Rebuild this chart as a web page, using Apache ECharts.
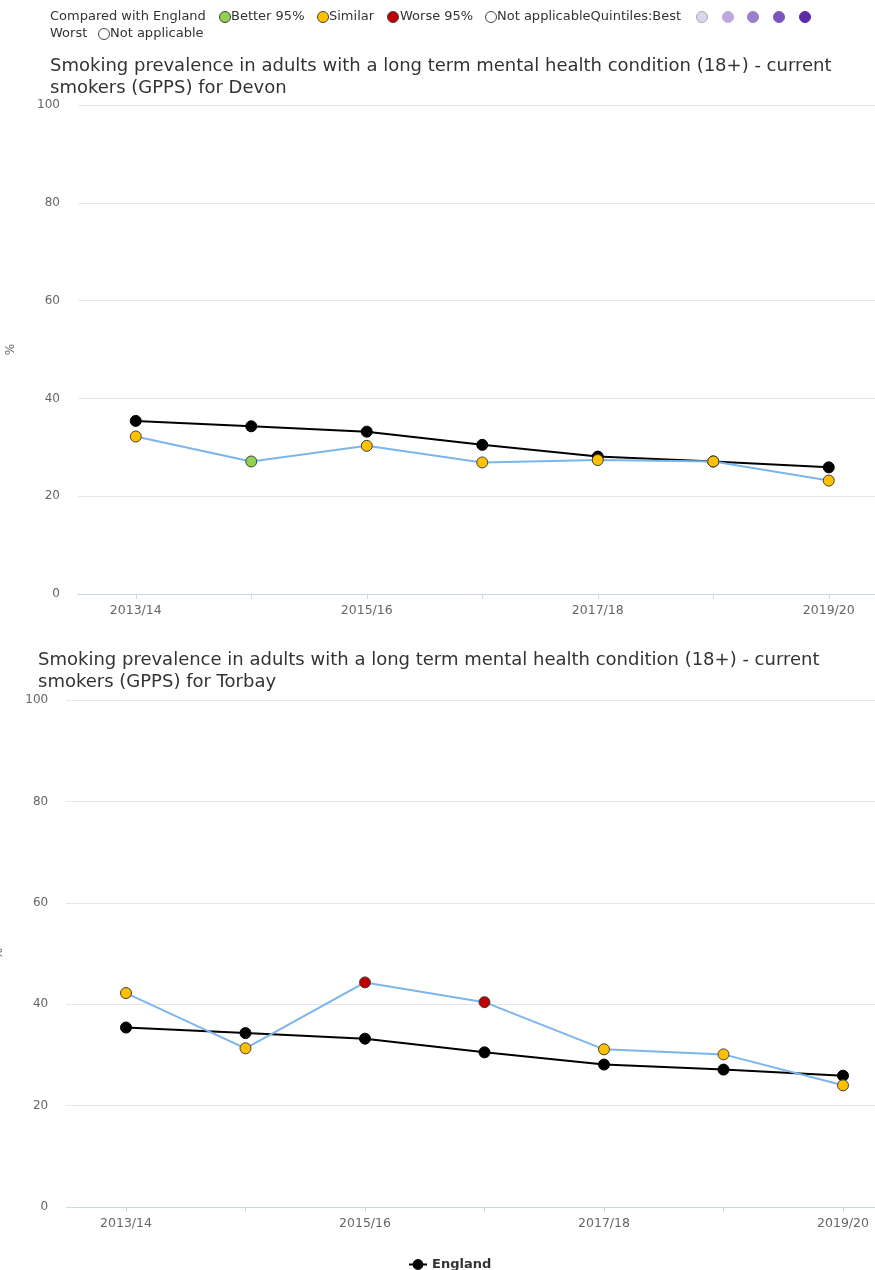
<!DOCTYPE html>
<html>
<head>
<meta charset="utf-8">
<script src="https://cdn.jsdelivr.net/npm/echarts@6/dist/echarts.min.js"></script>
<style>
html,body{margin:0;padding:0;background:#fff;}
#chart{width:875px;height:1270px;}
</style>
</head>
<body>
<div id="chart"></div>
<script>
const categories = ['2013/14','2014/15','2015/16','2016/17','2017/18','2018/19','2019/20'];
const englandValues = [35.4, 34.3, 33.2, 30.5, 28.1, 27.1, 25.9];
const devonValues = [32.2, 27.1, 30.3, 26.9, 27.4, 27.1, 23.2];
const devonSignificance = ['Similar','Better','Similar','Similar','Similar','Similar','Similar'];
const torbayValues = [42.2, 31.3, 44.3, 40.4, 31.1, 30.1, 24.0];
const torbaySignificance = ['Similar','Similar','Worse','Worse','Similar','Similar','Similar'];
const yMin = 0, yMax = 100, yStep = 20;
const title1 = 'Smoking prevalence in adults with a long term mental health condition (18+) - current\nsmokers (GPPS) for Devon';
const title2 = 'Smoking prevalence in adults with a long term mental health condition (18+) - current\nsmokers (GPPS) for Torbay';

const sigColors = {Better:'#92d050', Similar:'#ffc000', Worse:'#c00000'};
const FONT = 'DejaVu Sans';

function areaData(vals, sig){
  return vals.map((v,i)=>({value:v, itemStyle:{color:sigColors[sig[i]]}}));
}

function xAxis(gi){
  return {
    type:'category', gridIndex:gi, data:categories, boundaryGap:true,
    axisLine:{lineStyle:{color:'#ccd6eb', width:1}},
    axisTick:{show:true, alignWithLabel:true, interval:0, length:5, lineStyle:{color:'#ccd6eb'}},
    axisLabel:{interval:1, color:'#666', fontSize:12.5, fontFamily:FONT, margin:10},
    splitLine:{show:false}
  };
}
function yAxis(gi){
  return {
    type:'value', gridIndex:gi, min:yMin, max:yMax, interval:yStep,
    name:'%', nameLocation:'middle', nameGap:61, nameRotate:90,
    nameTextStyle:{color:'#666', fontSize:12, fontFamily:FONT},
    axisLine:{show:false}, axisTick:{show:false},
    axisLabel:{color:'#666', fontSize:12, fontFamily:FONT, margin:18},
    splitLine:{lineStyle:{color:'#e6e6e6', width:1}}
  };
}
function englandSeries(gi){
  return {
    name:'England', type:'line', xAxisIndex:gi, yAxisIndex:gi, data:englandValues,
    symbol:'circle', symbolSize:11, z:2,
    lineStyle:{color:'#000', width:2},
    itemStyle:{color:'#000', borderColor:'#000', borderWidth:1},
    emphasis:{disabled:true}
  };
}
function areaSeries(name, gi, vals, sig){
  return {
    name:name, type:'line', xAxisIndex:gi, yAxisIndex:gi, data:areaData(vals, sig),
    symbol:'circle', symbolSize:11, z:3,
    lineStyle:{color:'#7cb5ec', width:2},
    itemStyle:{borderColor:'#404040', borderWidth:1},
    emphasis:{disabled:true}
  };
}

const txt = (x,y,t)=>({type:'text', x:x, y:y, style:{text:t, fill:'#333', font:'13px "'+FONT+'"', verticalAlign:'middle', align:'left'}});
const circ = (cx,cy,fill,stroke)=>({type:'circle', shape:{cx:cx, cy:cy, r:5.5}, style:{fill:fill, stroke:stroke||'#444', lineWidth:1}});

const graphics = [
  txt(50,17,'Compared with England'),
  circ(225,17,sigColors.Better), txt(231,17,'Better 95%'),
  circ(323,17,sigColors.Similar), txt(329,17,'Similar'),
  circ(393,17,sigColors.Worse), txt(400,17,'Worse 95%'),
  circ(491,17,'#fff'), txt(497,17,'Not applicableQuintiles:Best'),
  circ(702,17,'#ddd5ef','#aaa'), circ(728,17,'#bba8dd','#bba8dd'), circ(753,17,'#9b7fcb','#9b7fcb'),
  circ(779,17,'#7c55bc','#7c55bc'), circ(805,17,'#5c2aa5','#5c2aa5'),
  txt(50,34,'Worst'),
  circ(104,34,'#fff'), txt(110,34,'Not applicable')
];

const chart = echarts.init(document.getElementById('chart'), null, {renderer:'canvas'});
chart.setOption({
  animation:false,
  backgroundColor:'#fff',
  title:[
    {text:title1, left:50, top:55, padding:0, textStyle:{fontFamily:FONT, fontSize:18, fontWeight:'normal', color:'#333', lineHeight:22}},
    {text:title2, left:38, top:649, padding:0, textStyle:{fontFamily:FONT, fontSize:18, fontWeight:'normal', color:'#333', lineHeight:22}}
  ],
  legend:{
    data:['England'], left:403, top:1253, selectedMode:false,
    itemWidth:18, itemHeight:11, itemGap:6,
    textStyle:{fontFamily:FONT, fontSize:13, fontWeight:'bold', color:'#333'}
  },
  grid:[
    {left:78, top:105, width:808.5, height:489, containLabel:false, outerBoundsMode:'none'},
    {left:66.25, top:700, width:836.5, height:507, containLabel:false, outerBoundsMode:'none'}
  ],
  xAxis:[xAxis(0), xAxis(1)],
  yAxis:[yAxis(0), yAxis(1)],
  graphic:graphics,
  series:[
    englandSeries(0),
    areaSeries('Devon', 0, devonValues, devonSignificance),
    englandSeries(1),
    areaSeries('Torbay', 1, torbayValues, torbaySignificance)
  ]
});
</script>
</body>
</html>
